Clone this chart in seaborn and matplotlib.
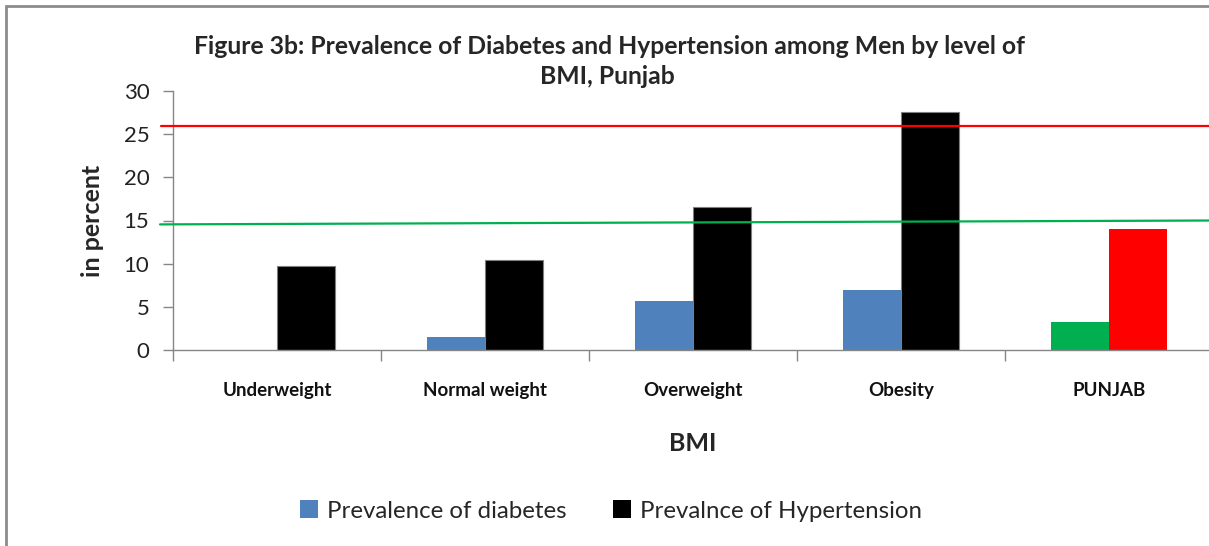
import matplotlib
matplotlib.use("Agg")
import matplotlib.pyplot as plt
from matplotlib.patches import Rectangle, Patch
import matplotlib.transforms as mtransforms
import pandas as pd
import seaborn as sns

categories = ["Underweight", "Normal weight", "Overweight", "Obesity", "PUNJAB"]
diabetes = [0.0, 1.5, 5.7, 7.0, 3.3]
hypertension = [9.7, 10.4, 16.6, 27.6, 14.0]
series_names = ["Prevalence of diabetes", "Prevalnce of Hypertension"]
# Reference lines (left end, right end) in percent
diabetes_line = [14.55, 15.0]
hypertension_line = [25.9, 25.9]
y_ticks = [0, 5, 10, 15, 20, 25, 30]

sns.set_theme(style="white")
plt.rcParams["font.family"] = ["Lato", "DejaVu Sans"]

df = pd.DataFrame({
    "BMI": categories * 2,
    "value": diabetes + hypertension,
    "series": [series_names[0]] * len(categories) + [series_names[1]] * len(categories),
})

W, H = 1209, 546
fig = plt.figure(figsize=(W / 100, H / 100), dpi=100)
ax = fig.add_axes([173 / W, 1 - 350 / H, 1040 / W, 259 / H])

sns.barplot(data=df, x="BMI", y="value", hue="series", order=categories,
            hue_order=series_names, palette=["#4F81BD", "#000000"],
            width=0.56, gap=0, dodge=True, legend=False, ax=ax,
            saturation=1, edgecolor="none")

# state-level bars highlighted in green / red
ax.containers[0][4].set_facecolor("#00B050")
ax.containers[1][4].set_facecolor("#FF0000")
for bar in ax.containers[1][:4]:
    bar.set_edgecolor("#7F7F7F")
    bar.set_linewidth(0.8)

ax.set_xlim(-0.5, len(categories) - 0.5)
ax.set_ylim(0, 30)
ax.set_yticks(y_ticks)
ax.set_yticklabels([str(t) for t in y_ticks], fontsize=16, color="#222222")
ax.tick_params(axis="y", length=7, width=1, color="#868686", direction="out", left=True, pad=10)

# category boundaries as minor ticks on the x axis
ax.set_xticks([i - 0.5 for i in range(len(categories) + 1)], minor=True)
ax.tick_params(axis="x", which="minor", length=8, width=1, color="#868686", direction="out", bottom=True)
ax.tick_params(axis="x", which="major", length=0, pad=23)
ax.set_xticklabels(categories, fontsize=13.5, fontweight="bold", color="#111111")

for side in ("top", "right"):
    ax.spines[side].set_visible(False)
for side in ("left", "bottom"):
    ax.spines[side].set_color("#868686")
    ax.spines[side].set_linewidth(1)

# reference lines spanning past the y axis
trans = mtransforms.blended_transform_factory(ax.transAxes, ax.transData)
ax.plot([-12 / 1040, 1.0], hypertension_line, color="#FF0000", lw=1.6,
        transform=trans, clip_on=False, zorder=5)
ax.plot([-13 / 1040, 1.0], diabetes_line, color="#00B050", lw=1.6,
        transform=trans, clip_on=False, zorder=5)

ax.set_xlabel("BMI", fontsize=18, fontweight="bold", labelpad=24)
ax.set_ylabel("in percent", fontsize=18, fontweight="bold", labelpad=14)

fig.text(610 / W, 1 - 47 / H,
         "Figure 3b: Prevalence of Diabetes and Hypertension among Men by level of",
         ha="center", va="center", fontsize=17.8, fontweight="bold")
fig.text(607 / W, 1 - 77 / H, "BMI, Punjab",
         ha="center", va="center", fontsize=17.8, fontweight="bold")

handles = [Patch(facecolor="#4F81BD", edgecolor="none"),
           Patch(facecolor="#000000", edgecolor="none")]
fig.legend(handles, series_names, loc="center", bbox_to_anchor=(611 / W, 1 - 511 / H),
           ncol=2, frameon=False, fontsize=17.3, handlelength=0.75, handleheight=0.75,
           handletextpad=0.4, columnspacing=1.9)

# chart frame
fig.patches.append(Rectangle((6 / W, -0.2), 2.0, 1.2 - 6 / H, transform=fig.transFigure,
                             fill=False, edgecolor="#8C8C8C", lw=2, zorder=0))

fig.savefig("out.png", dpi=100)
